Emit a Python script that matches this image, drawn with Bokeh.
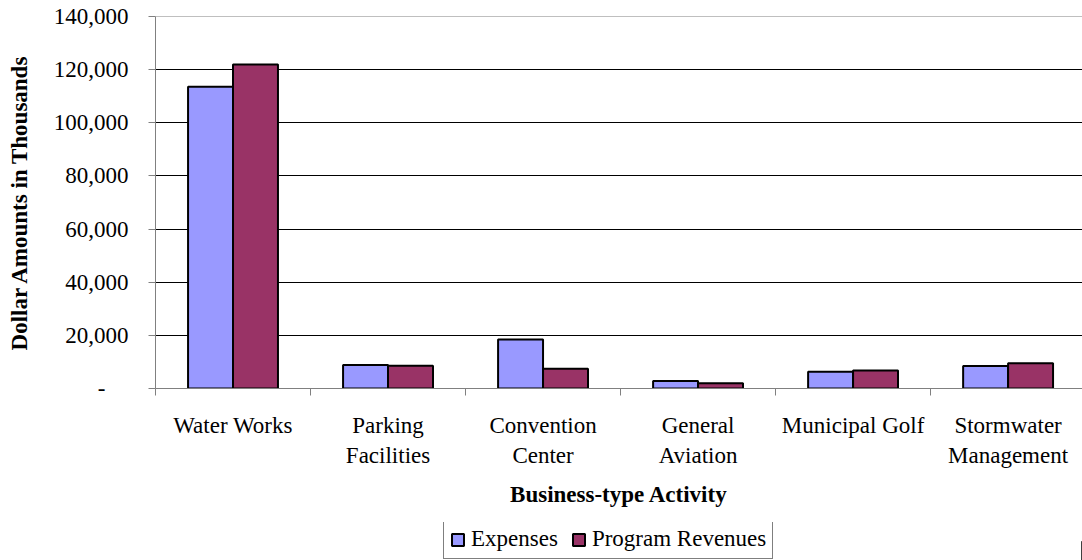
from bokeh.plotting import figure
from bokeh.layouts import column
from bokeh.models import (Range1d, LinearAxis, FixedTicker, Legend, LegendItem,
                          Span, ColumnDataSource)
from bokeh.embed import file_html
from bokeh.resources import INLINE

# ---- data -----------------------------------------------------------------
categories = ["Water Works", "Parking\nFacilities", "Convention\nCenter",
              "General\nAviation", "Municipal Golf", "Stormwater\nManagement"]
expenses = [113600, 8800, 18400, 2800, 6300, 8500]
revenues = [121900, 8600, 7400, 2000, 6800, 9500]
series_names = ["Expenses", "Program Revenues"]
series_colors = ["#9999FF", "#993366"]
y_ticks = [0, 20000, 40000, 60000, 80000, 100000, 120000, 140000]
y_tick_labels = ["-\u00a0\u00a0\u00a0\u00a0", "20,000", "40,000", "60,000",
                 "80,000", "100,000", "120,000", "140,000"]
x_title = "Business-type Activity"
y_title = "Dollar Amounts in Thousands"

FONT = "Liberation Serif"
FS = "23px"
GRAY = "#808080"

n = len(categories)
centers = [i + 0.5 for i in range(n)]
BAR_W = 0.29

src = ColumnDataSource(dict(
    x_exp=[c - BAR_W / 2 for c in centers],
    x_rev=[c + BAR_W / 2 for c in centers],
    expenses=expenses,
    revenues=revenues,
))

p = figure(frame_width=927, frame_height=372,
           x_range=Range1d(0, 5.98), y_range=Range1d(0, 140000),
           output_backend="svg", toolbar_location=None,
           x_axis_location=None, y_axis_location="left",
           min_border_left=155, min_border_right=0,
           min_border_top=16, min_border_bottom=134)
p.outline_line_color = None
p.background_fill_color = "white"
p.border_fill_color = "white"

# bars
bar_style = dict(width=BAR_W, bottom=0, line_color="black", line_width=2)
r_exp = p.vbar(x="x_exp", top="expenses", source=src,
               fill_color=series_colors[0], **bar_style)
r_rev = p.vbar(x="x_rev", top="revenues", source=src,
               fill_color=series_colors[1], **bar_style)

# grid
p.xgrid.visible = False
p.ygrid.ticker = FixedTicker(ticks=y_ticks[1:-1])
p.ygrid.grid_line_color = "black"
p.ygrid.grid_line_width = 1
p.add_layout(Span(location=y_ticks[-1], dimension="width",
                  line_color=GRAY, line_width=1))

# y axis
ya = p.yaxis[0]
ya.ticker = FixedTicker(ticks=y_ticks)
ya.major_label_overrides = {t: l for t, l in zip(y_ticks, y_tick_labels)}
ya.major_label_text_font = FONT
ya.major_label_text_font_size = FS
ya.major_label_text_color = "black"
ya.major_label_standoff = 20
ya.major_tick_in = 0
ya.major_tick_out = 7
ya.major_tick_line_color = GRAY
ya.minor_tick_line_color = None
ya.axis_line_color = GRAY
ya.axis_label = y_title
ya.axis_label_text_font = FONT
ya.axis_label_text_font_size = FS
ya.axis_label_text_font_style = "bold"
ya.axis_label_text_color = "black"
ya.axis_label_standoff = 19

# x axis: boundary ticks
xa1 = LinearAxis(ticker=FixedTicker(ticks=list(range(n + 1))))
xa1.major_label_overrides = {i: "" for i in range(n + 1)}
xa1.major_label_text_font_size = "1px"
xa1.major_label_standoff = 0
xa1.major_tick_in = 0
xa1.major_tick_out = 7
xa1.major_tick_line_color = GRAY
xa1.minor_tick_line_color = None
xa1.axis_line_color = GRAY

# x axis: category labels
xa2 = LinearAxis(ticker=FixedTicker(ticks=centers))
xa2.major_label_overrides = {c: l for c, l in zip(centers, categories)}
xa2.major_label_text_font = FONT
xa2.major_label_text_font_size = FS
xa2.major_label_text_color = "black"
xa2.major_label_text_line_height = 1.2
xa2.major_label_standoff = 17
xa2.major_tick_line_color = None
xa2.major_tick_in = 0
xa2.major_tick_out = 0
xa2.minor_tick_line_color = None
xa2.axis_line_color = None
xa2.axis_label = x_title
xa2.axis_label_text_font = FONT
xa2.axis_label_text_font_size = FS
xa2.axis_label_text_font_style = "bold"
xa2.axis_label_text_color = "black"
xa2.axis_label_standoff = 11

p.add_layout(xa1, "below")
p.add_layout(xa2, "below")

# ---- legend strip (same series styles, drawn under the chart) -------------
lf = figure(width=1082, height=38, x_range=Range1d(0, 1), y_range=Range1d(0, 1),
            output_backend="svg", toolbar_location=None,
            x_axis_location=None, y_axis_location=None,
            min_border_left=0, min_border_right=0,
            min_border_top=0, min_border_bottom=0)
lf.outline_line_color = None
lf.xgrid.visible = False
lf.ygrid.visible = False
# one off-screen point per series so the legend swatches have their styles
proxy = ColumnDataSource(dict(x=[5.0], top=[0.5]))
l_exp = lf.vbar(x="x", top="top", source=proxy, fill_color=series_colors[0], **bar_style)
l_rev = lf.vbar(x="x", top="top", source=proxy, fill_color=series_colors[1], **bar_style)

legend = Legend(items=[LegendItem(label=series_names[0], renderers=[l_exp]),
                       LegendItem(label=series_names[1], renderers=[l_rev])],
                orientation="horizontal", location=(288, 1))
legend.label_text_font = FONT
legend.label_text_font_size = FS
legend.label_text_color = "black"
legend.glyph_width = 15
legend.glyph_height = 15
legend.label_standoff = 6
legend.spacing = 13
legend.padding = 6
legend.margin = 0
legend.border_line_color = "black"
legend.border_line_width = 1
legend.background_fill_color = "white"
legend.background_fill_alpha = 1
lf.add_layout(legend, "center")

layout = column(p, lf, spacing=0)
open("out.html", "w").write(file_html(layout, INLINE))
